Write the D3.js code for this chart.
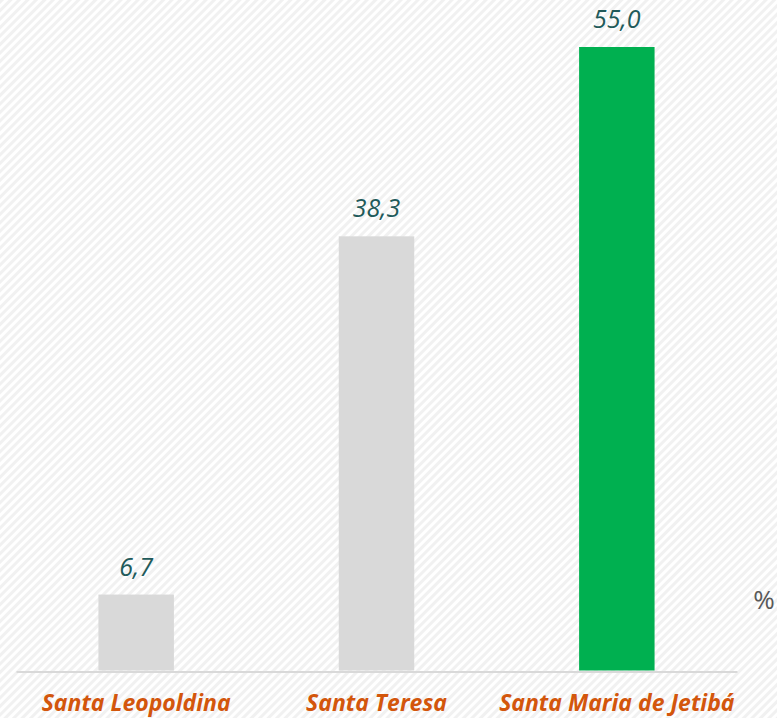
<!DOCTYPE html>
<html>
<head>
<meta charset="utf-8">
<script src="https://cdn.jsdelivr.net/npm/d3@7"></script>
<style>
  html, body { margin: 0; padding: 0; background: #fff; }
  svg { display: block; }
</style>
</head>
<body>
<svg id="chart" width="777" height="718"></svg>
<script>
const categories = ["Santa Leopoldina", "Santa Teresa", "Santa Maria de Jetibá"];
const values = [6.7, 38.3, 55.0];
const valueLabels = ["6,7", "38,3", "55,0"];
const barColors = ["#d9d9d9", "#d9d9d9", "#00b050"];
const unitLabel = "%";

const W = 777, H = 718;
const svg = d3.select("#chart");

// hatched background
const defs = svg.append("defs");
const pat = defs.append("pattern")
  .attr("id", "hatch").attr("patternUnits", "userSpaceOnUse")
  .attr("width", 6).attr("height", 6)
  .attr("patternTransform", "rotate(45)");
pat.append("rect").attr("width", 6).attr("height", 6).attr("fill", "#ffffff");
pat.append("rect").attr("width", 3).attr("height", 6).attr("fill", "#f1f1f1");
svg.append("rect").attr("width", W).attr("height", H).attr("fill", "url(#hatch)");

const x = d3.scaleBand().domain(categories).range([16, 737])
  .paddingInner(0.686).paddingOuter(0.343);
const y = d3.scaleLinear().domain([0, 55]).range([670.5, 47]);

// bars
svg.append("g").selectAll("rect").data(categories).join("rect")
  .attr("x", d => x(d))
  .attr("y", (d, i) => y(values[i]))
  .attr("width", x.bandwidth())
  .attr("height", (d, i) => y(0) - y(values[i]))
  .attr("fill", (d, i) => barColors[i]);

// axis line
const axis = d3.axisBottom(x).tickSize(0).tickPadding(0).tickFormat("");
const gAxis = svg.append("g").attr("transform", `translate(0,${y(0) + 1})`).call(axis);
gAxis.select(".domain").attr("stroke", "#d9d9d9").attr("stroke-width", 2);

// value labels
svg.append("g").selectAll("text").data(categories).join("text")
  .attr("x", d => x(d) + x.bandwidth() / 2)
  .attr("y", (d, i) => y(values[i]) - 19)
  .attr("text-anchor", "middle")
  .attr("font-family", "'Open Sans', sans-serif")
  .attr("font-style", "italic")
  .attr("font-size", 25)
  .attr("fill", "#215a5a")
  .text((d, i) => valueLabels[i]);

// category labels
svg.append("g").selectAll("text").data(categories).join("text")
  .attr("x", d => x(d) + x.bandwidth() / 2)
  .attr("y", 711)
  .attr("text-anchor", "middle")
  .attr("font-family", "'Open Sans', sans-serif")
  .attr("font-style", "italic")
  .attr("font-weight", "bold")
  .attr("font-size", 23)
  .attr("fill", "#d3560c")
  .text(d => d);

// unit
svg.append("text")
  .attr("x", 764).attr("y", 609)
  .attr("text-anchor", "middle")
  .attr("font-family", "'Open Sans', sans-serif")
  .attr("font-size", 26)
  .attr("fill", "#595959")
  .text(unitLabel);
</script>
</body>
</html>
